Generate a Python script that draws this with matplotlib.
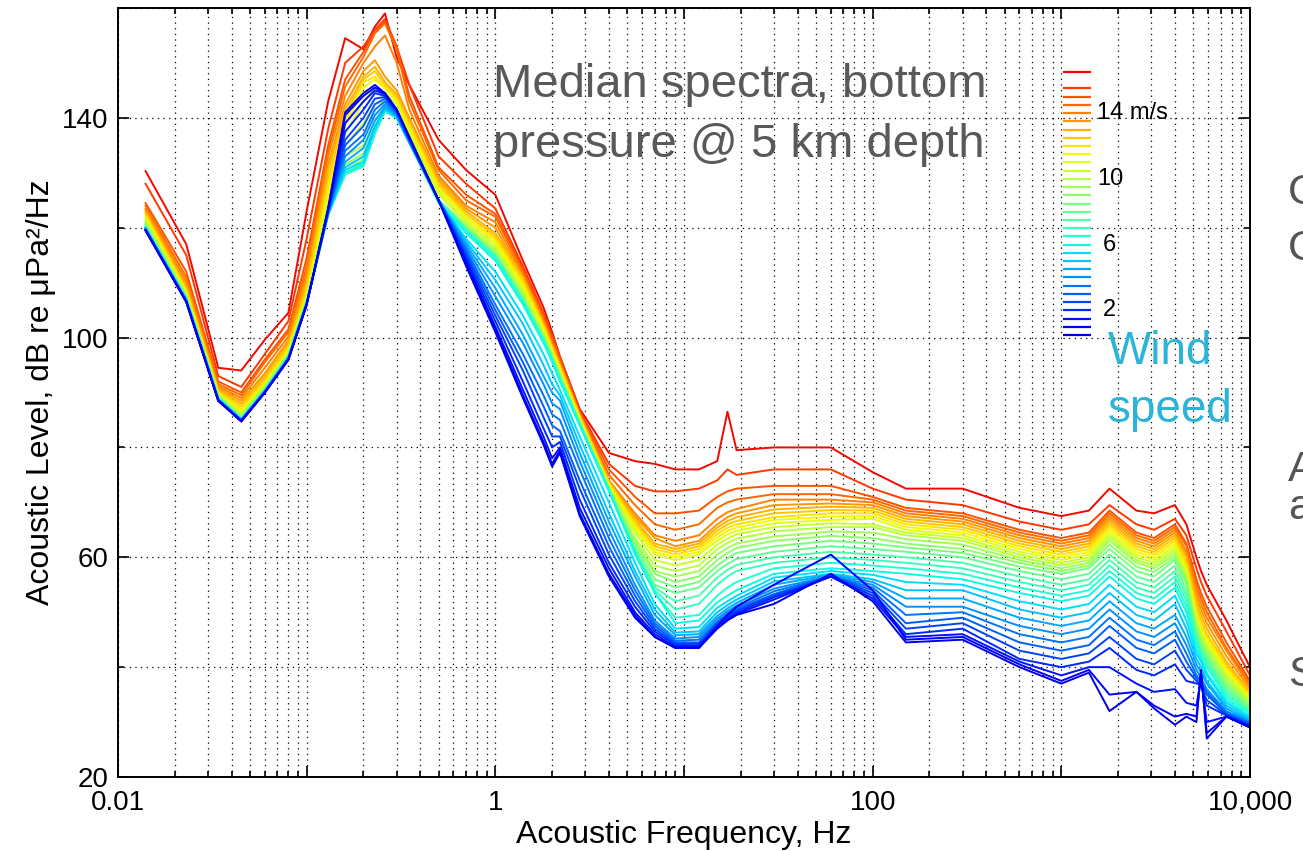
import numpy as np
import matplotlib
matplotlib.use("Agg")
import matplotlib.pyplot as plt
from matplotlib import colors
from matplotlib.ticker import LogLocator, NullFormatter, FixedLocator

plt.rcParams['font.family'] = ['Liberation Sans', 'DejaVu Sans']

# Wind speed of each median spectrum (m/s)
WIND_SPEEDS = [0.5, 1.0, 1.5, 2.0, 2.5, 3.0, 3.5, 4.0, 4.5, 5.0, 5.5, 6.0,
               6.5, 7.0, 7.5, 8.0, 8.5, 9.0, 9.5, 10.0, 10.5, 11.0, 11.5,
               12.0, 12.5, 13.0, 13.5, 14.0, 14.5, 15.0, 15.5, 16.5]

# Frequencies (Hz) of the three bands
FREQ_MICROSEISM = [0.014, 0.023, 0.034, 0.045, 0.06, 0.08, 0.1, 0.13, 0.16,
                   0.2, 0.23, 0.26, 0.3, 0.35]
FREQ_TRANSITION = [0.5, 0.7, 1.0, 1.4, 1.8, 2.0, 2.2, 2.8, 4.0, 5.5, 7.0,
                   9.0, 12.0, 15.0, 17.0, 19.0]
FREQ_WIND = [30, 60, 100, 150, 300, 600, 1000, 1400, 1800, 2500, 3100, 4000,
             4600, 5200, 5500, 5900, 7500, 10000]

# Levels (dB re uPa^2/Hz), one row per wind speed
LEVEL_MICROSEISM = [
    [119.5, 106.5, 88.5, 84.7, 90.0, 96.0, 106.0, 123.5, 141.0, 144.5, 146.0, 144.5, 141.5, 136.5],
    [119.5, 106.5, 88.5, 84.8, 90.0, 96.0, 106.0, 123.5, 140.5, 144.0, 145.5, 144.5, 141.5, 136.5],
    [119.5, 106.5, 88.5, 84.8, 90.0, 96.0, 106.0, 123.3, 139.0, 143.0, 145.0, 144.3, 141.5, 136.3],
    [119.6, 106.6, 88.6, 84.8, 90.0, 96.0, 106.0, 123.2, 137.5, 141.5, 144.5, 144.0, 141.3, 136.2],
    [119.6, 106.6, 88.6, 84.9, 90.0, 96.1, 106.1, 123.0, 136.0, 140.0, 143.5, 143.8, 141.2, 136.0],
    [119.7, 106.7, 88.6, 84.9, 90.1, 96.1, 106.1, 123.0, 135.0, 138.5, 142.5, 143.5, 141.0, 136.0],
    [119.7, 106.7, 88.7, 85.0, 90.1, 96.2, 106.2, 122.8, 134.0, 137.0, 141.5, 143.0, 140.8, 135.8],
    [119.8, 106.8, 88.7, 85.0, 90.2, 96.2, 106.2, 122.7, 133.0, 136.0, 140.5, 142.5, 140.6, 135.7],
    [119.8, 106.8, 88.7, 85.0, 90.2, 96.3, 106.2, 122.6, 132.0, 134.5, 139.5, 142.0, 140.4, 135.6],
    [119.9, 106.9, 88.8, 85.0, 90.3, 96.3, 106.3, 122.5, 131.0, 133.0, 138.5, 141.7, 140.2, 135.5],
    [119.9, 106.9, 88.8, 85.1, 90.3, 96.4, 106.3, 122.5, 130.5, 132.0, 138.0, 141.5, 140.1, 135.5],
    [120.0, 107.0, 88.9, 85.1, 90.3, 96.4, 106.3, 122.4, 130.0, 131.5, 137.5, 141.3, 140.0, 135.5],
    [120.0, 107.0, 88.9, 85.1, 90.4, 96.4, 106.4, 122.4, 129.8, 131.3, 137.3, 141.2, 140.0, 135.5],
    [120.1, 107.1, 89.0, 85.2, 90.4, 96.5, 106.4, 122.4, 129.7, 131.2, 137.2, 141.2, 140.0, 135.5],
    [120.1, 107.1, 89.0, 85.2, 90.5, 96.5, 106.5, 122.5, 129.7, 131.2, 137.2, 141.2, 140.0, 135.6],
    [120.2, 107.2, 89.1, 85.3, 90.5, 96.6, 106.5, 122.6, 129.8, 131.4, 137.3, 141.3, 140.1, 135.7],
    [120.4, 107.3, 89.2, 85.4, 90.6, 96.7, 106.6, 122.8, 130.0, 131.8, 137.5, 141.4, 140.2, 135.8],
    [120.6, 107.4, 89.3, 85.5, 90.7, 96.8, 106.7, 123.0, 130.5, 132.5, 137.8, 141.5, 140.3, 136.0],
    [120.8, 107.5, 89.4, 85.6, 90.8, 96.9, 106.8, 123.3, 131.5, 133.5, 138.3, 141.7, 140.5, 136.2],
    [121.0, 107.6, 89.5, 85.8, 91.0, 97.0, 107.0, 123.8, 133.0, 135.0, 139.5, 142.0, 140.8, 136.5],
    [121.3, 107.8, 89.6, 86.0, 91.2, 97.2, 107.2, 124.5, 135.0, 139.0, 142.5, 143.0, 141.5, 137.0],
    [121.6, 108.0, 89.7, 86.3, 91.4, 97.4, 107.4, 125.5, 137.0, 143.0, 145.5, 144.5, 142.5, 137.5],
    [121.9, 108.2, 89.8, 86.6, 91.6, 97.6, 107.6, 126.5, 138.5, 145.5, 147.0, 145.3, 143.0, 138.0],
    [122.2, 108.5, 90.0, 87.0, 92.0, 98.0, 108.0, 127.5, 139.5, 146.5, 147.5, 145.5, 143.3, 138.5],
    [122.5, 108.8, 90.2, 87.5, 92.5, 98.5, 109.0, 129.0, 140.5, 147.0, 148.5, 146.0, 143.8, 139.0],
    [122.8, 109.2, 90.5, 88.0, 93.0, 99.0, 110.0, 130.5, 141.5, 147.5, 149.3, 146.5, 144.3, 139.5],
    [123.1, 109.7, 90.8, 88.5, 93.5, 99.5, 111.0, 131.5, 142.5, 148.5, 150.5, 147.5, 145.0, 140.0],
    [123.5, 110.3, 91.1, 89.0, 94.5, 100.2, 112.0, 133.0, 144.0, 150.0, 153.0, 155.0, 150.0, 141.5],
    [124.0, 111.0, 91.5, 89.5, 95.5, 101.0, 113.0, 134.0, 145.7, 151.1, 155.4, 157.2, 152.4, 143.0],
    [124.5, 112.0, 92.0, 90.0, 96.0, 101.5, 114.5, 135.0, 147.0, 152.0, 155.8, 157.5, 153.0, 144.0],
    [128.0, 115.0, 93.0, 91.0, 97.0, 103.0, 118.0, 138.0, 150.0, 153.0, 156.0, 158.0, 153.0, 146.0],
    [130.3, 117.0, 94.5, 94.0, 99.6, 104.5, 123.0, 143.0, 154.5, 152.5, 156.6, 159.0, 151.0, 146.0],
]

LEVEL_TRANSITION = [
    [125.0, 113.0, 101.0, 89.0, 80.5, 76.5, 79.0, 67.5, 56.5, 49.0, 45.5, 43.5, 43.5, 47.0, 48.5, 49.5],
    [125.0, 113.5, 101.5, 89.5, 81.0, 77.0, 79.5, 68.0, 57.0, 49.5, 45.5, 43.5, 43.5, 47.5, 49.5, 51.0],
    [125.0, 114.0, 102.0, 90.5, 82.0, 78.0, 80.0, 69.0, 58.0, 50.0, 46.0, 43.7, 43.8, 47.2, 48.7, 49.7],
    [125.0, 114.5, 103.0, 92.0, 83.5, 80.0, 81.0, 70.5, 59.0, 51.0, 46.5, 44.0, 44.0, 47.5, 49.0, 50.0],
    [125.0, 115.0, 104.0, 94.0, 85.5, 82.0, 82.0, 72.5, 60.5, 52.0, 47.0, 44.2, 44.3, 47.8, 49.3, 50.3],
    [125.0, 115.5, 105.0, 95.5, 87.5, 84.0, 83.0, 74.0, 62.0, 53.0, 47.5, 44.5, 44.5, 48.0, 49.5, 50.5],
    [125.0, 116.0, 106.0, 97.0, 89.5, 86.0, 85.0, 76.0, 63.5, 54.0, 48.0, 44.8, 45.0, 48.3, 49.8, 50.8],
    [125.0, 116.5, 107.5, 99.0, 91.5, 88.0, 87.0, 77.5, 65.0, 55.0, 48.5, 45.2, 45.5, 48.8, 50.2, 51.2],
    [125.0, 117.0, 109.0, 100.5, 93.0, 90.0, 88.5, 79.0, 66.5, 56.5, 49.5, 45.8, 46.0, 49.3, 50.7, 51.7],
    [125.0, 117.5, 110.5, 102.5, 95.0, 91.5, 89.5, 80.5, 68.0, 57.5, 50.5, 46.3, 46.5, 50.0, 51.3, 52.3],
    [125.0, 118.0, 112.0, 104.0, 97.0, 93.5, 90.5, 82.0, 70.0, 59.0, 51.5, 47.0, 47.3, 50.8, 52.0, 53.0],
    [124.5, 119.0, 114.0, 106.0, 99.0, 95.5, 92.0, 84.0, 72.0, 61.0, 53.5, 48.0, 48.5, 51.8, 53.0, 54.0],
    [125.0, 119.5, 114.5, 106.5, 99.5, 96.0, 92.5, 84.3, 72.3, 60.5, 53.5, 49.0, 49.5, 53.0, 54.5, 55.5],
    [125.0, 119.5, 114.5, 106.5, 99.5, 96.0, 92.5, 84.3, 72.3, 60.5, 54.0, 50.5, 51.5, 55.0, 56.5, 57.5],
    [125.0, 119.5, 115.0, 107.0, 99.5, 96.0, 92.5, 84.3, 72.3, 61.0, 54.5, 52.0, 53.0, 56.3, 57.7, 58.6],
    [125.0, 120.0, 115.0, 107.0, 100.0, 96.3, 92.8, 84.4, 72.4, 61.5, 55.0, 53.5, 54.5, 57.5, 58.8, 59.7],
    [125.0, 120.0, 115.0, 107.0, 100.0, 96.3, 92.8, 84.4, 72.4, 62.0, 56.0, 54.5, 55.5, 58.5, 59.8, 60.8],
    [125.0, 120.0, 115.5, 107.5, 100.0, 96.5, 93.0, 84.5, 72.5, 62.5, 57.0, 55.5, 56.5, 59.5, 60.8, 61.7],
    [125.0, 120.5, 115.5, 107.5, 100.0, 96.5, 93.0, 84.5, 72.5, 63.0, 57.5, 56.5, 57.5, 60.5, 61.7, 62.5],
    [125.0, 120.5, 116.0, 108.0, 100.5, 96.8, 93.3, 84.6, 72.6, 63.5, 58.5, 57.5, 58.5, 61.5, 62.6, 63.4],
    [126.0, 121.0, 116.5, 108.5, 101.0, 97.0, 93.5, 84.8, 72.8, 64.5, 59.5, 58.5, 59.5, 62.3, 63.4, 64.2],
    [126.5, 121.5, 117.0, 109.0, 101.0, 97.5, 94.0, 85.0, 73.0, 65.0, 60.5, 59.5, 60.5, 63.0, 64.2, 64.8],
    [127.0, 122.0, 117.5, 109.5, 101.5, 97.5, 94.0, 85.2, 73.2, 65.5, 61.0, 60.0, 61.0, 63.6, 64.8, 65.4],
    [127.5, 122.0, 118.0, 110.0, 102.0, 98.0, 94.5, 85.4, 73.4, 66.0, 61.5, 60.5, 61.5, 64.2, 65.4, 66.0],
    [128.0, 122.5, 118.5, 110.5, 102.0, 98.0, 94.5, 85.6, 73.6, 66.5, 62.0, 61.0, 62.0, 64.8, 66.0, 66.6],
    [128.5, 123.0, 119.0, 111.0, 102.5, 98.5, 95.0, 85.8, 73.8, 67.0, 62.5, 61.5, 62.5, 65.4, 66.6, 67.3],
    [129.0, 123.5, 120.0, 111.0, 103.0, 98.5, 95.0, 86.0, 74.0, 67.5, 63.5, 62.0, 63.0, 66.0, 67.3, 68.0],
    [129.5, 124.0, 121.0, 111.5, 103.0, 99.0, 95.5, 86.0, 74.0, 68.0, 64.0, 63.0, 64.0, 67.0, 68.2, 68.8],
    [130.5, 125.0, 122.0, 112.0, 103.5, 99.5, 95.5, 86.2, 75.0, 69.5, 66.0, 65.0, 66.0, 69.0, 70.0, 70.5],
    [131.0, 126.0, 122.5, 112.5, 104.0, 100.0, 96.0, 86.5, 76.0, 71.0, 68.0, 68.0, 68.5, 71.0, 72.0, 72.5],
    [133.0, 128.0, 123.5, 113.0, 104.5, 100.5, 96.5, 86.7, 77.0, 73.0, 72.0, 72.0, 72.5, 74.0, 76.0, 75.0],
    [136.0, 130.5, 126.0, 114.0, 105.5, 101.0, 96.5, 87.0, 79.0, 77.5, 77.0, 76.0, 76.0, 77.5, 86.5, 79.5],
]

LEVEL_WIND = [
    [51.5, 57.0, 52.0, 44.5, 45.0, 40.0, 37.0, 39.0, 32.0, 35.5, 32.5, 29.5, 31.0, 30.0, 39.5, 27.0, 31.0, 29.0],
    [55.0, 60.5, 54.0, 45.0, 45.5, 40.5, 37.5, 39.5, 35.0, 35.5, 33.0, 31.0, 31.5, 31.0, 39.0, 28.0, 31.0, 29.0],
    [52.3, 56.5, 52.5, 45.5, 46.0, 41.0, 38.5, 40.0, 40.0, 37.0, 35.5, 36.0, 33.5, 33.0, 38.0, 30.0, 31.0, 29.2],
    [52.7, 56.5, 53.0, 46.0, 47.0, 41.5, 40.0, 41.0, 43.5, 39.5, 38.5, 40.5, 37.5, 37.0, 37.0, 33.0, 31.2, 29.4],
    [53.0, 56.5, 53.5, 47.0, 48.0, 43.0, 41.5, 42.5, 45.5, 41.5, 40.5, 43.0, 39.5, 37.5, 36.5, 34.0, 31.3, 29.5],
    [53.3, 56.5, 54.0, 48.0, 49.0, 44.5, 43.0, 44.0, 47.5, 43.5, 42.5, 45.0, 41.0, 38.0, 37.0, 35.0, 31.5, 29.6],
    [53.8, 56.5, 54.5, 49.5, 50.0, 46.0, 44.5, 45.5, 49.0, 45.0, 44.0, 46.5, 42.5, 38.5, 37.5, 35.5, 31.7, 29.8],
    [54.3, 56.6, 55.0, 51.0, 51.0, 47.5, 46.0, 47.0, 50.5, 46.5, 45.5, 48.0, 44.0, 39.5, 38.0, 36.0, 32.0, 30.0],
    [55.0, 56.8, 55.5, 52.5, 52.5, 49.0, 47.5, 48.5, 52.0, 48.0, 47.0, 49.5, 45.5, 40.5, 39.0, 37.0, 32.5, 30.2],
    [55.6, 57.0, 56.0, 54.0, 54.0, 50.5, 49.0, 50.0, 53.5, 49.5, 48.5, 51.5, 47.0, 41.5, 40.0, 37.5, 33.0, 30.5],
    [56.3, 57.5, 56.8, 55.5, 55.0, 52.0, 50.5, 51.5, 55.0, 51.0, 50.0, 53.0, 48.5, 42.5, 41.0, 38.5, 33.5, 30.8],
    [57.0, 58.0, 57.5, 57.0, 56.0, 53.5, 52.0, 53.0, 56.5, 52.5, 51.5, 54.5, 50.0, 43.5, 41.5, 39.0, 34.0, 31.0],
    [58.0, 59.0, 58.5, 58.0, 57.0, 54.5, 53.0, 54.0, 57.5, 53.5, 52.5, 55.5, 51.0, 44.5, 42.0, 40.0, 34.5, 31.4],
    [59.0, 60.0, 59.5, 59.0, 58.0, 55.5, 54.0, 55.0, 58.5, 54.5, 53.5, 56.5, 52.0, 45.0, 42.5, 40.5, 35.0, 31.7],
    [60.0, 61.0, 60.5, 60.0, 59.0, 56.5, 55.0, 56.0, 59.5, 55.5, 54.5, 57.5, 53.0, 45.5, 43.0, 41.0, 35.5, 32.0],
    [61.0, 62.0, 61.5, 61.0, 60.0, 57.5, 56.0, 57.0, 60.5, 56.5, 55.5, 58.5, 54.0, 46.0, 43.5, 41.5, 36.0, 32.3],
    [62.0, 63.0, 62.5, 61.8, 60.8, 58.3, 57.0, 58.0, 61.5, 57.5, 56.5, 59.5, 55.0, 46.5, 44.0, 42.0, 36.5, 32.6],
    [63.0, 63.9, 63.5, 62.5, 61.5, 59.0, 57.5, 58.5, 62.3, 58.3, 57.3, 60.0, 55.5, 47.0, 44.5, 42.5, 37.0, 32.9],
    [63.8, 64.7, 64.5, 63.3, 62.3, 59.5, 58.0, 59.0, 63.0, 59.0, 58.0, 60.5, 56.0, 47.5, 45.0, 43.0, 37.5, 33.2],
    [64.7, 65.5, 65.5, 64.0, 63.0, 60.0, 58.5, 59.5, 63.5, 59.5, 58.5, 61.0, 56.5, 48.0, 45.5, 43.5, 38.0, 33.5],
    [65.5, 66.2, 66.0, 64.5, 63.5, 60.5, 59.0, 60.0, 64.0, 60.0, 59.0, 61.5, 57.0, 48.5, 46.0, 44.0, 38.5, 33.8],
    [66.2, 66.8, 67.0, 65.0, 64.0, 61.0, 59.5, 60.5, 64.5, 60.5, 59.5, 62.0, 57.5, 49.0, 46.5, 44.5, 39.0, 34.1],
    [66.8, 67.4, 67.5, 65.5, 64.5, 61.5, 60.0, 61.0, 65.0, 61.0, 60.0, 62.5, 58.0, 49.5, 47.0, 45.0, 39.5, 34.4],
    [67.3, 68.0, 68.0, 66.0, 65.0, 62.0, 60.5, 61.5, 65.5, 61.5, 60.5, 63.0, 58.5, 50.0, 47.5, 45.5, 40.0, 34.7],
    [68.0, 68.6, 68.5, 66.5, 65.5, 62.5, 61.0, 62.0, 66.0, 62.0, 61.0, 63.5, 59.0, 51.0, 48.5, 46.0, 40.5, 35.0],
    [68.7, 69.2, 69.0, 67.0, 66.0, 63.0, 61.5, 62.5, 66.5, 62.5, 61.5, 64.0, 60.0, 52.0, 49.5, 47.0, 41.0, 35.5],
    [69.5, 69.8, 69.5, 67.5, 66.5, 63.5, 62.0, 63.0, 67.0, 63.0, 62.0, 64.5, 60.5, 53.0, 50.5, 48.0, 42.0, 36.0],
    [70.5, 70.5, 70.0, 68.0, 67.0, 64.0, 62.5, 63.5, 67.5, 63.5, 62.5, 65.0, 61.0, 54.0, 51.5, 49.0, 43.0, 36.5],
    [71.5, 71.5, 70.5, 68.5, 67.5, 64.5, 63.0, 64.0, 68.0, 64.0, 63.0, 65.5, 62.0, 55.0, 52.5, 50.0, 43.5, 37.0],
    [73.0, 73.0, 71.0, 69.0, 68.0, 65.0, 63.5, 64.5, 68.5, 64.5, 63.5, 66.0, 62.5, 56.0, 53.5, 51.0, 44.5, 37.5],
    [76.0, 76.0, 72.5, 70.5, 69.5, 66.5, 65.0, 66.0, 69.5, 66.0, 65.0, 67.0, 64.0, 58.0, 55.5, 53.0, 46.5, 38.5],
    [80.0, 80.0, 75.5, 72.5, 72.5, 69.0, 67.5, 68.5, 72.5, 68.5, 68.0, 69.5, 66.0, 60.0, 57.5, 55.0, 48.5, 40.0],
]

# Colour key labels
KEY_TICKS = [14, 10, 6, 2]
KEY_TEXT = ["14 m/s", "10", "6", "2"]

TITLE_LINES = ["Median spectra, bottom", "pressure @ 5 km depth"]

W, H = 1303, 851
fig = plt.figure(figsize=(W / 100, H / 100), dpi=100)

ax_l, ax_r, ax_t, ax_b = 118, 1250, 8, 777
ax = fig.add_axes([ax_l / W, 1 - ax_b / H, (ax_r - ax_l) / W, (ax_b - ax_t) / H])

freq = np.array(FREQ_MICROSEISM + FREQ_TRANSITION + FREQ_WIND)
levels = np.hstack([np.array(LEVEL_MICROSEISM), np.array(LEVEL_TRANSITION),
                    np.array(LEVEL_WIND)])

cmap = plt.get_cmap('jet')
norm = colors.Normalize(vmin=-1.29, vmax=18.5)

# Windiest spectra first, so the calm-weather curves sit on top
for w, row in reversed(list(zip(WIND_SPEEDS, levels))):
    ax.plot(freq, row, color=cmap(norm(w)), lw=1.4, solid_joinstyle='round')

ax.set_xscale('log')
ax.set_xlim(0.01, 10000)
ax.set_ylim(20, 160)

ax.xaxis.set_major_locator(FixedLocator([0.01, 0.1, 1, 10, 100, 1000, 10000]))
ax.set_xticklabels(['0.01', '', '1', '', '100', '', '10,000'])
ax.xaxis.set_minor_locator(LogLocator(base=10, subs=np.arange(2, 10), numticks=100))
ax.xaxis.set_minor_formatter(NullFormatter())
ax.set_yticks([20, 60, 100, 140])
ax.set_yticks([40, 80, 120, 160], minor=True)

grid_style = dict(color='black', linestyle=(0, (1, 3.5)), linewidth=0.9)
ax.grid(True, which='both', axis='both', **grid_style)
ax.set_axisbelow(True)

ax.tick_params(which='both', direction='in', top=True, right=True, width=1.2)
ax.tick_params(which='major', length=8, labelsize=20)
ax.tick_params(which='minor', length=4)
ax.tick_params(axis='x', which='major', pad=9)
ax.tick_params(axis='y', which='major', pad=7)
for s in ax.spines.values():
    s.set_linewidth(1.4)

ax.set_xlabel('Acoustic Frequency, Hz', fontsize=23, labelpad=3)
ax.set_ylabel('Acoustic Level, dB re μPa²/Hz', fontsize=23, labelpad=4)

# Colour key for wind speed
key_top, key_bot = 72 - 0.25 * 16.44, 335 + 0.25 * 16.44
kax = fig.add_axes([1063 / W, 1 - key_bot / H, 28 / W, (key_bot - key_top) / H])
kax.set_xlim(0, 1)
kax.set_ylim(0.25, 16.75)
kax.axis('off')
for w in WIND_SPEEDS:
    kax.hlines(w, 0, 1, color=cmap(norm(w)), lw=1.6)
for val, txt in zip(KEY_TICKS, KEY_TEXT):
    xpos = 1.22 if len(txt) > 1 else 1.43
    kax.text(xpos, val, txt, fontsize=17, ha='left', va='center', color='black')

# Annotations
fig.text(493 / W, 1 - 97 / H, TITLE_LINES[0], fontsize=34, color='#595959',
         ha='left', va='baseline')
fig.text(493 / W, 1 - 157 / H, TITLE_LINES[1], fontsize=34, color='#595959',
         ha='left', va='baseline')
fig.text(1108 / W, 1 - 364 / H, 'Wind', fontsize=33, color='#2ab4d8',
         ha='left', va='baseline')
fig.text(1108 / W, 1 - 422 / H, 'speed', fontsize=33, color='#2ab4d8',
         ha='left', va='baseline')

# Slide text running off the right edge
for letter, ypx in [('C', 204), ('C', 260), ('A', 481), ('a', 519), ('S', 686)]:
    fig.text(1288 / W, 1 - ypx / H, letter, fontsize=31, color='#555555',
             ha='left', va='baseline')

fig.savefig('out.png', dpi=100)
